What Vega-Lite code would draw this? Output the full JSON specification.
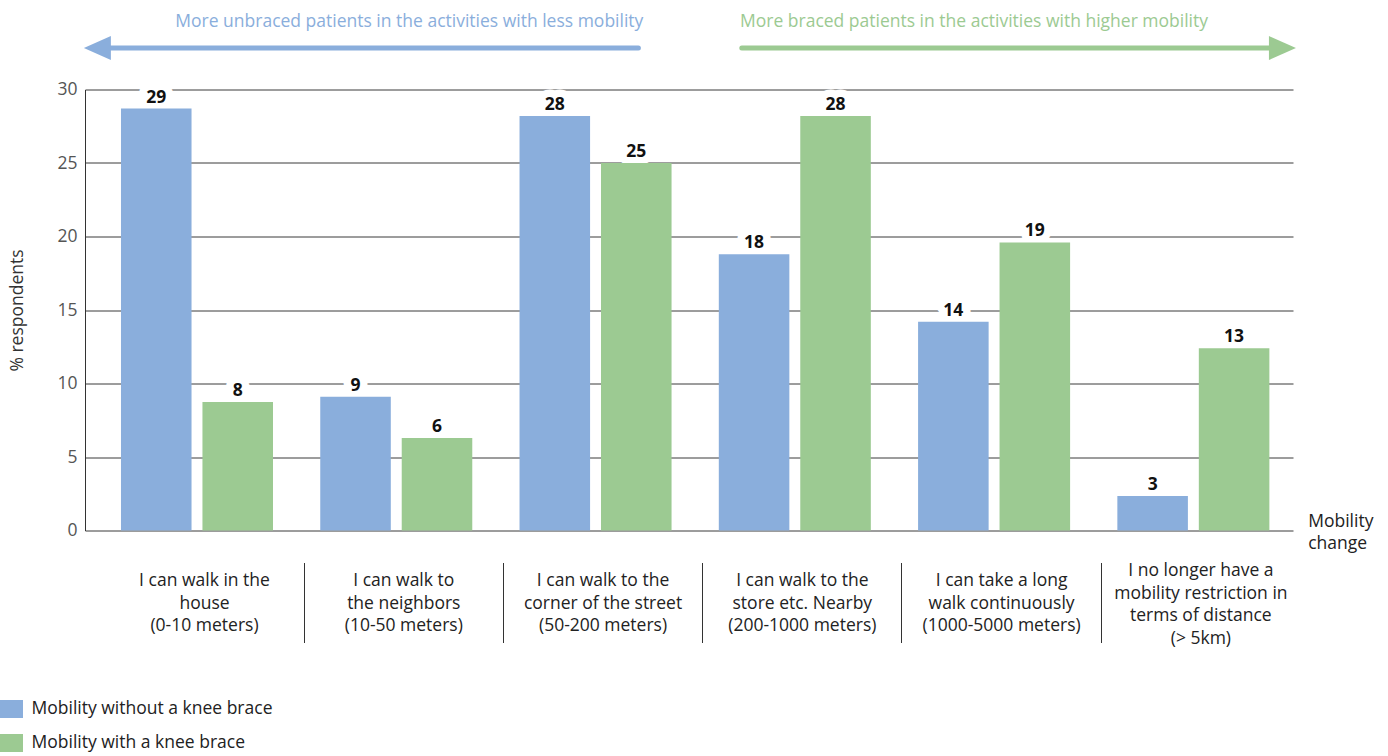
{
  "$schema": "https://vega.github.io/schema/vega-lite/v6.json",
  "width": 1208,
  "height": 441,
  "autosize": {"type": "none"},
  "padding": {"left": 85, "top": 89.5, "right": 95, "bottom": 225.5},
  "config": {"font": "Open Sans", "view": {"stroke": null}},
  "datasets": {
    "bars": [
      {"category": "I can walk in the|house|(0-10 meters)", "series": "Mobility without a knee brace", "value": 28.7, "label": "29"},
      {"category": "I can walk in the|house|(0-10 meters)", "series": "Mobility with a knee brace", "value": 8.75, "label": "8"},
      {"category": "I can walk to|the neighbors|(10-50 meters)", "series": "Mobility without a knee brace", "value": 9.1, "label": "9"},
      {"category": "I can walk to|the neighbors|(10-50 meters)", "series": "Mobility with a knee brace", "value": 6.3, "label": "6"},
      {"category": "I can walk to the|corner of the street|(50-200 meters)", "series": "Mobility without a knee brace", "value": 28.2, "label": "28"},
      {"category": "I can walk to the|corner of the street|(50-200 meters)", "series": "Mobility with a knee brace", "value": 25.0, "label": "25"},
      {"category": "I can walk to the|store etc. Nearby|(200-1000 meters)", "series": "Mobility without a knee brace", "value": 18.8, "label": "18"},
      {"category": "I can walk to the|store etc. Nearby|(200-1000 meters)", "series": "Mobility with a knee brace", "value": 28.2, "label": "28"},
      {"category": "I can take a long|walk continuously|(1000-5000 meters)", "series": "Mobility without a knee brace", "value": 14.2, "label": "14"},
      {"category": "I can take a long|walk continuously|(1000-5000 meters)", "series": "Mobility with a knee brace", "value": 19.6, "label": "19"},
      {"category": "I no longer have a|mobility restriction in|terms of distance|(> 5km)", "series": "Mobility without a knee brace", "value": 2.35, "label": "3"},
      {"category": "I no longer have a|mobility restriction in|terms of distance|(> 5km)", "series": "Mobility with a knee brace", "value": 12.4, "label": "13"}
    ]
  },
  "layer": [
    {
      "data": {"name": "bars"},
      "encoding": {
        "x": {
          "field": "category",
          "type": "nominal",
          "sort": null,
          "scale": {"paddingInner": 0, "paddingOuter": 0.031, "align": 1},
          "axis": {
            "title": ["Mobility", "change"],
            "titleX": 1222.7,
            "titleY": -36.5,
            "titleAlign": "left",
            "titleAngle": 0,
            "titleBaseline": "alphabetic",
            "titleFontSize": 17.5,
            "titleFontWeight": "normal",
            "titleColor": "#222",
            "titleLineHeight": 22,
            "offset": 32,
            "domain": false,
            "grid": false,
            "ticks": true,
            "tickSize": 80,
            "tickWidth": 1,
            "bandPosition": 0,
            "tickOffset": 7,
            "tickColor": {"condition": {"test": "datum.value === 'I can walk in the|house|(0-10 meters)'", "value": "transparent"}, "value": "#333"},
            "labelExpr": "split(datum.label, '|')",
            "labelFontSize": 17.5,
            "labelColor": "#222",
            "labelLineHeight": 22.5,
            "labelBaseline": "middle",
            "labelPadding": {"condition": {"test": "datum.value === 'I no longer have a|mobility restriction in|terms of distance|(> 5km)'", "value": -72}, "value": -62},
            "labelAngle": 0,
            "labelLimit": 0
          }
        },
        "xOffset": {
          "field": "series",
          "type": "nominal",
          "sort": ["Mobility without a knee brace", "Mobility with a knee brace"],
          "scale": {"paddingInner": 0.134, "paddingOuter": 0.29}
        },
        "y": {
          "field": "value",
          "type": "quantitative",
          "scale": {"domain": [0, 30], "nice": false},
          "axis": {
            "title": "% respondents",
            "values": [0, 5, 10, 15, 20, 25, 30],
            "grid": true,
            "gridColor": "#3a3a3a",
            "gridWidth": 1,
            "domain": true,
            "domainColor": "#333",
            "ticks": false,
            "labelPadding": 8,
            "labelFontSize": 17.5,
            "labelColor": "#555",
            "titleFontSize": 17.5,
            "titleFontWeight": "normal",
            "titleColor": "#333",
            "titlePadding": 30
          }
        }
      },
      "layer": [
        {
          "mark": {"type": "text", "fontSize": 17.5, "fontWeight": "bold", "baseline": "middle", "dy": -11, "fill": "white", "stroke": "white", "strokeWidth": 15, "strokeJoin": "round"},
          "encoding": {"text": {"field": "label"}}
        },
        {
          "mark": {"type": "bar"},
          "encoding": {
            "color": {
              "field": "series",
              "type": "nominal",
              "scale": {"domain": ["Mobility without a knee brace", "Mobility with a knee brace"], "range": ["#8aaedc", "#9cca92"]},
              "legend": {
                "title": null,
                "orient": "none",
                "legendX": -83.5,
                "legendY": 609.5,
                "symbolType": "M-1.15,-0.9H1.15V0.9H-1.15Z",
                "symbolSize": 400,
                "symbolStrokeWidth": 0,
                "symbolOpacity": 1,
                "labelFontSize": 17.5,
                "labelColor": "#222",
                "rowPadding": 15,
                "labelOffset": 10,
                "labelLimit": 0
              }
            }
          }
        },
        {
          "mark": {"type": "text", "fontSize": 17.5, "fontWeight": "bold", "baseline": "middle", "dy": -11, "color": "#111"},
          "encoding": {"text": {"field": "label"}}
        }
      ]
    },
    {
      "data": {"values": [{"text": "More unbraced patients in the activities with less mobility"}]},
      "mark": {"type": "text", "align": "right", "baseline": "middle", "fontSize": 17.5, "color": "#8aaedc"},
      "encoding": {
        "x": {"datum": "I can walk to the|corner of the street|(50-200 meters)", "type": "nominal", "bandPosition": 0.74},
        "y": {"datum": 34.6, "type": "quantitative"},
        "text": {"field": "text"}
      }
    },
    {
      "data": {"values": [{"text": "More braced patients in the activities with higher mobility"}]},
      "mark": {"type": "text", "align": "left", "baseline": "middle", "fontSize": 17.5, "color": "#9cca92"},
      "encoding": {
        "x": {"datum": "I can walk to the|store etc. Nearby|(200-1000 meters)", "type": "nominal", "bandPosition": 0.225},
        "y": {"datum": 34.6, "type": "quantitative"},
        "text": {"field": "text"}
      }
    },
    {
      "data": {"values": [{}]},
      "mark": {"type": "rule", "strokeWidth": 5, "strokeCap": "round", "color": "#8aaedc"},
      "encoding": {
        "x": {"datum": "I can walk in the|house|(0-10 meters)", "type": "nominal", "bandPosition": 0.05},
        "x2": {"datum": "I can walk to the|corner of the street|(50-200 meters)", "bandPosition": 0.715},
        "y": {"datum": 32.82, "type": "quantitative"}
      }
    },
    {
      "data": {"values": [{}]},
      "mark": {"type": "point", "filled": true, "opacity": 1, "strokeWidth": 0, "size": 576, "shape": "M1.125,-1L-1.125,0L1.125,1Z", "color": "#8aaedc"},
      "encoding": {
        "x": {"datum": "I can walk in the|house|(0-10 meters)", "type": "nominal", "bandPosition": 0},
        "y": {"datum": 32.82, "type": "quantitative"}
      }
    },
    {
      "data": {"values": [{}]},
      "mark": {"type": "rule", "strokeWidth": 5, "strokeCap": "round", "color": "#9cca92"},
      "encoding": {
        "x": {"datum": "I can walk to the|store etc. Nearby|(200-1000 meters)", "type": "nominal", "bandPosition": 0.234},
        "x2": {"datum": "I no longer have a|mobility restriction in|terms of distance|(> 5km)", "bandPosition": 0.9},
        "y": {"datum": 32.82, "type": "quantitative"}
      }
    },
    {
      "data": {"values": [{}]},
      "mark": {"type": "point", "filled": true, "opacity": 1, "strokeWidth": 0, "size": 576, "shape": "M-1.125,-1L1.125,0L-1.125,1Z", "color": "#9cca92"},
      "encoding": {
        "x": {"datum": "I no longer have a|mobility restriction in|terms of distance|(> 5km)", "type": "nominal", "bandPosition": 0.947},
        "y": {"datum": 32.82, "type": "quantitative"}
      }
    }
  ]
}
